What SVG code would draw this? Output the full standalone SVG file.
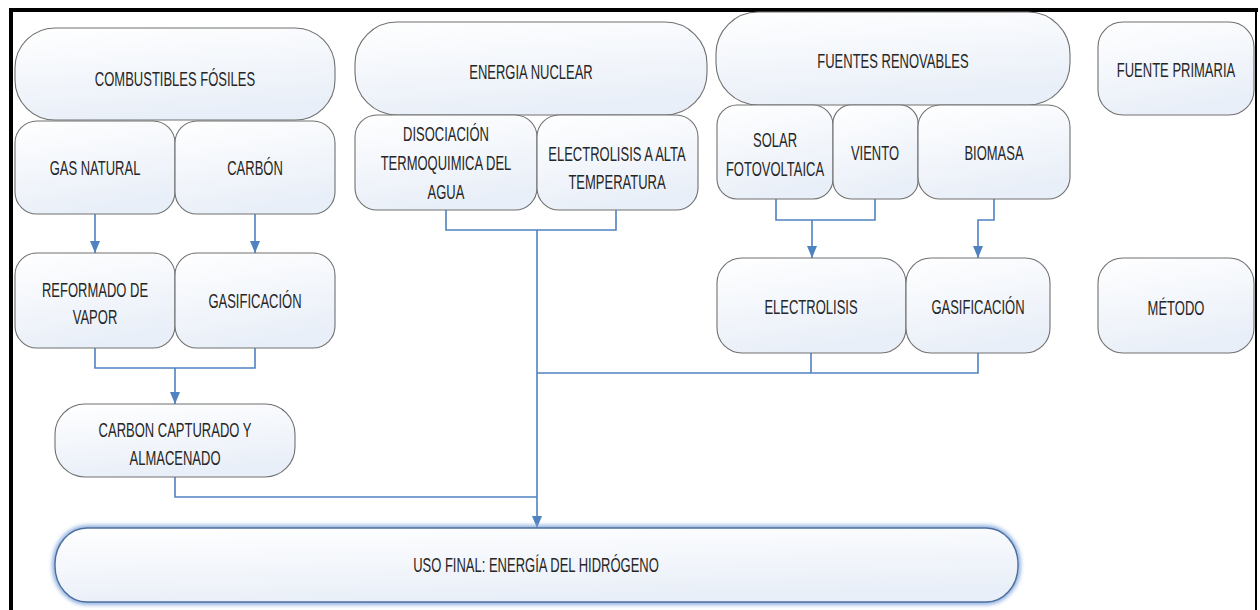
<svg xmlns="http://www.w3.org/2000/svg" width="1260" height="610" viewBox="0 0 1260 610">
<style>
.n{fill:url(#g);stroke:#707070;stroke-width:1.1}
.t{font-family:"Liberation Sans",Arial,sans-serif;font-size:20px;fill:#262626;text-anchor:middle}
.c{fill:none;stroke:#4f82c0;stroke-width:1.6}
.a{marker-end:url(#ah)}
.f{stroke:#000;fill:none}
</style>
<defs>
<linearGradient id="g" x1="0" y1="0" x2="0.3" y2="1">
<stop offset="0" stop-color="#ffffff"/>
<stop offset="1" stop-color="#e9eff8"/>
</linearGradient>
<filter id="glow" x="-5%" y="-30%" width="110%" height="160%">
<feGaussianBlur stdDeviation="2.2"/>
</filter>
<marker id="ah" viewBox="0 0 12 10" refX="12" refY="5" markerWidth="12" markerHeight="10" markerUnits="userSpaceOnUse" orient="auto">
<path d="M0,0 L12,5 L0,10 Z" fill="#4f82c0"/>
</marker>
</defs>
<rect x="0" y="0" width="1260" height="610" fill="#ffffff"/>
<g id="frame">
<path class="f" stroke-width="4" d="M11,610 V10 H1258"/>
<path class="f" stroke-width="2" d="M1256,10 V610"/>
</g>
<g id="connectors">
<path class="c a" d="M95,214 V253"/>
<path class="c a" d="M255,214 V253"/>
<path class="c" d="M95,348 V368 H255 V348"/>
<path class="c a" d="M175,368 V404"/>
<path class="c" d="M175,477 V497 H537"/>
<path class="c" d="M446,210 V230 H616 V210"/>
<path class="c a" d="M537,230 V528"/>
<path class="c" d="M776,199 V220 H875 V199"/>
<path class="c a" d="M812,220 V258"/>
<path class="c a" d="M994,199 V220 H978 V258"/>
<path class="c" d="M537,373 H978 V353"/>
<path class="c" d="M811,353 V373"/>
</g>
<g id="n-combustibles"><rect class="n" x="15" y="28" width="320" height="92" rx="40"/><text class="t" transform="matrix(0.65 0 0 1 175 86)">COMBUSTIBLES FÓSILES</text></g>
<g id="n-gas-natural"><rect class="n" x="15" y="121" width="160" height="93" rx="22"/><text class="t" transform="matrix(0.65 0 0 1 95 175)">GAS NATURAL</text></g>
<g id="n-carbon"><rect class="n" x="175" y="121" width="160" height="93" rx="22"/><text class="t" transform="matrix(0.65 0 0 1 255 175)">CARBÓN</text></g>
<g id="n-reformado"><rect class="n" x="15" y="253" width="160" height="95" rx="22"/><text class="t" transform="matrix(0.65 0 0 1 95 297)">REFORMADO DE<tspan x="0" dy="27">VAPOR</tspan></text></g>
<g id="n-gasificacion-fosil"><rect class="n" x="175" y="253" width="160" height="95" rx="22"/><text class="t" transform="matrix(0.65 0 0 1 255 308)">GASIFICACIÓN</text></g>
<g id="n-carbon-capturado"><rect class="n" x="55" y="404" width="240" height="73" rx="30"/><text class="t" transform="matrix(0.65 0 0 1 175 437)">CARBON CAPTURADO Y<tspan x="0" dy="28">ALMACENADO</tspan></text></g>
<g id="n-nuclear"><rect class="n" x="355" y="22" width="352" height="93" rx="42"/><text class="t" transform="matrix(0.65 0 0 1 531 79)">ENERGIA NUCLEAR</text></g>
<g id="n-disociacion"><rect class="n" x="355" y="115" width="182" height="95" rx="22"/><text class="t" transform="matrix(0.65 0 0 1 446 141)">DISOCIACIÓN<tspan x="0" dy="29">TERMOQUIMICA DEL</tspan><tspan x="0" dy="29">AGUA</tspan></text></g>
<g id="n-electrolisis-alta"><rect class="n" x="537" y="115" width="161" height="95" rx="22"/><text class="t" transform="matrix(0.65 0 0 1 617 161)">ELECTROLISIS A ALTA<tspan x="0" dy="28">TEMPERATURA</tspan></text></g>
<g id="n-renovables"><rect class="n" x="716" y="12" width="354" height="93" rx="42"/><text class="t" transform="matrix(0.65 0 0 1 893 68)">FUENTES RENOVABLES</text></g>
<g id="n-solar"><rect class="n" x="717" y="105" width="116" height="94" rx="20"/><text class="t" transform="matrix(0.65 0 0 1 775 147)">SOLAR<tspan x="0" dy="29">FOTOVOLTAICA</tspan></text></g>
<g id="n-viento"><rect class="n" x="833" y="105" width="85" height="94" rx="18"/><text class="t" transform="matrix(0.65 0 0 1 875 160)">VIENTO</text></g>
<g id="n-biomasa"><rect class="n" x="918" y="105" width="152" height="94" rx="22"/><text class="t" transform="matrix(0.65 0 0 1 994 160)">BIOMASA</text></g>
<g id="n-electrolisis"><rect class="n" x="717" y="258" width="189" height="95" rx="25"/><text class="t" transform="matrix(0.65 0 0 1 811 314)">ELECTROLISIS</text></g>
<g id="n-gasificacion-renov"><rect class="n" x="906" y="258" width="144" height="95" rx="25"/><text class="t" transform="matrix(0.65 0 0 1 978 314)">GASIFICACIÓN</text></g>
<g id="n-fuente-primaria"><rect class="n" x="1098" y="22" width="156" height="93" rx="25"/><text class="t" transform="matrix(0.65 0 0 1 1176 77)">FUENTE PRIMARIA</text></g>
<g id="n-metodo"><rect class="n" x="1098" y="258" width="156" height="95" rx="25"/><text class="t" transform="matrix(0.65 0 0 1 1176 315)">MÉTODO</text></g>
<g id="n-uso-final">
<rect x="55" y="528" width="963" height="74" rx="32" ry="36" fill="none" stroke="#7ea5db" stroke-width="5" filter="url(#glow)"/>
<rect x="55" y="528" width="963" height="74" rx="32" ry="36" fill="url(#g)" stroke="#4d6f9e" stroke-width="1.4"/>
<text class="t" transform="matrix(0.65 0 0 1 536 572)">USO FINAL: ENERGÍA DEL HIDRÓGENO</text>
</g>
</svg>
